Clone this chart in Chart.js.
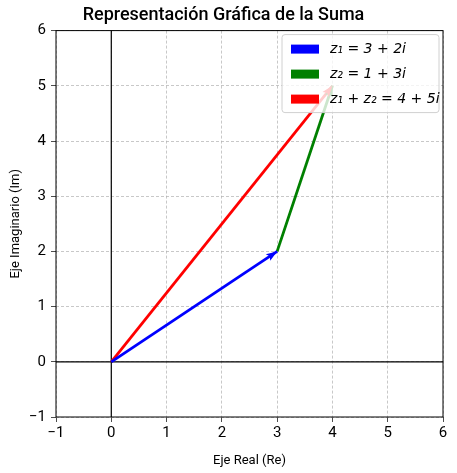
<!DOCTYPE html><html><head><meta charset="utf-8">
<script src="https://cdn.jsdelivr.net/npm/chart.js@4"></script>
<style>html,body{margin:0;padding:0;background:#fff}#w{width:457px;height:473px}</style></head><body>
<div id="w"><canvas id="c"></canvas></div>
<script>
const z1 = [3, 2];
const z2 = [1, 3];
const zsum = [4, 5];
const labels = ['z₁ = 3 + 2i', 'z₂ = 1 + 3i', 'z₁ + z₂ = 4 + 5i'];
const colors = ['#0000ff', '#008000', '#ff0000'];
const ticks = [-1, 0, 1, 2, 3, 4, 5, 6];
const segs = [
  [[0,0], z1],
  [z1, [z1[0]+z2[0], z1[1]+z2[1]]],
  [[0,0], zsum]
];
const FONT = 'Roboto, "DejaVu Sans", sans-serif';
const fmt = v => v < 0 ? '−' + Math.abs(v) : String(v);
const arrowPlugin = {
  id: 'arrows',
  beforeDatasetsDraw(chart) {
    const {ctx, chartArea: a, scales: {x, y}} = chart;
    ctx.save(); ctx.strokeStyle = '#000'; ctx.lineWidth = 1.2;
    ctx.beginPath();
    ctx.moveTo(a.left, y.getPixelForValue(0)); ctx.lineTo(a.right, y.getPixelForValue(0));
    ctx.moveTo(x.getPixelForValue(0), a.top); ctx.lineTo(x.getPixelForValue(0), a.bottom);
    ctx.stroke(); ctx.restore();
  },
  afterDatasetsDraw(chart) {
    const {ctx, chartArea: a, scales: {x, y}} = chart;
    segs.forEach((s, i) => {
      const x0 = x.getPixelForValue(s[0][0]), y0 = y.getPixelForValue(s[0][1]);
      const x1 = x.getPixelForValue(s[1][0]), y1 = y.getPixelForValue(s[1][1]);
      const ang = Math.atan2(y1 - y0, x1 - x0);
      const L = 11, W = 4;
      ctx.save(); ctx.fillStyle = colors[i];
      ctx.translate(x1, y1); ctx.rotate(ang);
      ctx.beginPath(); ctx.moveTo(0, 0); ctx.lineTo(-L, -W); ctx.lineTo(-L*0.8, 0); ctx.lineTo(-L, W); ctx.closePath(); ctx.fill();
      ctx.restore();
    });
    ctx.save(); ctx.strokeStyle = '#000'; ctx.lineWidth = 1;
    ctx.strokeRect(a.left, a.top, a.right - a.left, a.bottom - a.top);
    ctx.restore();
  },
  afterDraw(chart) {
    const {ctx, chartArea: a} = chart;
    const bx = a.right - 161, by = a.top + 4, bw = 157, bh = 78;
    ctx.save();
    ctx.fillStyle = 'rgba(255,255,255,0.8)'; ctx.strokeStyle = '#d0d0d0'; ctx.lineWidth = 1;
    ctx.beginPath(); ctx.roundRect(bx, by, bw, bh, 3); ctx.fill(); ctx.stroke();
    labels.forEach((t, i) => {
      const cy = by + 14 + i * 25;
      ctx.fillStyle = colors[i]; ctx.fillRect(bx + 9, cy - 4, 28, 9);
      ctx.fillStyle = '#000'; ctx.font = 'italic 14px "DejaVu Sans", sans-serif';
      ctx.textBaseline = 'middle'; ctx.fillText(t, bx + 48, cy + 1);
    });
    ctx.restore();
  }
};
const grid = {color: '#b0b0b0', lineWidth: 0.7, tickLength: 5, tickColor: '#000', drawTicks: true};
const border = {display: false, dash: [3, 2]};
new Chart(document.getElementById('c'), {
  type: 'scatter',
  data: {datasets: segs.map((s, i) => ({
    label: labels[i], data: s.map(p => ({x: p[0], y: p[1]})),
    showLine: true, borderColor: colors[i], borderWidth: 2.8, pointRadius: 0
  }))},
  options: {
    responsive: true, maintainAspectRatio: false, animation: false,
    layout: {padding: {right: 14, top: 0, left: 4}},
    plugins: {
      legend: {display: false}, tooltip: {enabled: false},
      title: {display: true, text: 'Representación Gráfica de la Suma', color: '#000',
        font: {family: FONT, size: 18, weight: '500'}, padding: {top: 5, bottom: 4}}
    },
    scales: {
      x: {type: 'linear', min: -1, max: 6,
        afterBuildTicks: s => { s.ticks = ticks.map(v => ({value: v})); },
        afterFit: s => { s.height = 56; },
        ticks: {color: '#000', font: {family: FONT, size: 15}, padding: 2, callback: fmt},
        grid: {...grid}, border: border,
        title: {display: true, text: 'Eje Real (Re)', color: '#000', font: {family: FONT, size: 13}, padding: {top: 3}}
      },
      y: {type: 'linear', min: -1, max: 6,
        afterBuildTicks: s => { s.ticks = ticks.map(v => ({value: v})); },
        afterFit: s => { s.width = 52; },
        ticks: {color: '#000', font: {family: FONT, size: 15}, padding: 5, callback: fmt},
        grid: {...grid}, border: border,
        title: {display: true, text: 'Eje Imaginario (Im)', color: '#000', font: {family: FONT, size: 13}, padding: {bottom: 0}}
      }
    }
  },
  plugins: [arrowPlugin]
});
</script></body></html>
